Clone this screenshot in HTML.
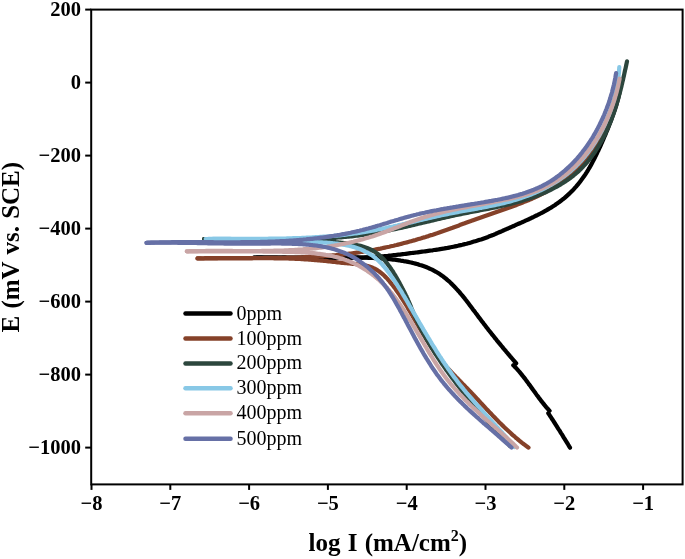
<!DOCTYPE html>
<html><head><meta charset="utf-8"><style>
html,body{margin:0;padding:0;background:#fff;width:685px;height:559px;overflow:hidden}
svg{display:block;will-change:transform}
.t{font-family:"Liberation Serif", serif;font-weight:bold;font-size:20.5px;fill:#000}
.tt{font-family:"Liberation Serif", serif;font-weight:bold;font-size:25px;fill:#000}
.l{font-family:"Liberation Serif", serif;font-size:20px;fill:#000}
</style></head><body><svg width="685" height="559" viewBox="0 0 685 559"><rect x="91.2" y="9.6" width="591.4" height="474.79999999999995" fill="none" stroke="#000" stroke-width="2"/><line x1="85.2" y1="9.6" x2="91.2" y2="9.6" stroke="#000" stroke-width="2"/><text x="81" y="15.6" text-anchor="end" class="t">200</text><line x1="85.2" y1="82.6" x2="91.2" y2="82.6" stroke="#000" stroke-width="2"/><text x="81" y="88.6" text-anchor="end" class="t">0</text><line x1="85.2" y1="155.6" x2="91.2" y2="155.6" stroke="#000" stroke-width="2"/><text x="81" y="161.6" text-anchor="end" class="t">−200</text><line x1="85.2" y1="228.6" x2="91.2" y2="228.6" stroke="#000" stroke-width="2"/><text x="81" y="234.6" text-anchor="end" class="t">−400</text><line x1="85.2" y1="301.6" x2="91.2" y2="301.6" stroke="#000" stroke-width="2"/><text x="81" y="307.6" text-anchor="end" class="t">−600</text><line x1="85.2" y1="374.6" x2="91.2" y2="374.6" stroke="#000" stroke-width="2"/><text x="81" y="380.6" text-anchor="end" class="t">−800</text><line x1="85.2" y1="447.6" x2="91.2" y2="447.6" stroke="#000" stroke-width="2"/><text x="81" y="453.6" text-anchor="end" class="t">−1000</text><line x1="91.5" y1="484.4" x2="91.5" y2="489.9" stroke="#000" stroke-width="2"/><text x="91.5" y="510" text-anchor="middle" class="t">−8</text><line x1="170.3" y1="484.4" x2="170.3" y2="489.9" stroke="#000" stroke-width="2"/><text x="170.3" y="510" text-anchor="middle" class="t">−7</text><line x1="249.1" y1="484.4" x2="249.1" y2="489.9" stroke="#000" stroke-width="2"/><text x="249.1" y="510" text-anchor="middle" class="t">−6</text><line x1="327.9" y1="484.4" x2="327.9" y2="489.9" stroke="#000" stroke-width="2"/><text x="327.9" y="510" text-anchor="middle" class="t">−5</text><line x1="406.7" y1="484.4" x2="406.7" y2="489.9" stroke="#000" stroke-width="2"/><text x="406.7" y="510" text-anchor="middle" class="t">−4</text><line x1="485.5" y1="484.4" x2="485.5" y2="489.9" stroke="#000" stroke-width="2"/><text x="485.5" y="510" text-anchor="middle" class="t">−3</text><line x1="564.3" y1="484.4" x2="564.3" y2="489.9" stroke="#000" stroke-width="2"/><text x="564.3" y="510" text-anchor="middle" class="t">−2</text><line x1="643.1" y1="484.4" x2="643.1" y2="489.9" stroke="#000" stroke-width="2"/><text x="643.1" y="510" text-anchor="middle" class="t">−1</text><text x="308.5" y="551" class="tt" word-spacing="1">log I (mA/cm<tspan dy="-10" font-size="16">2</tspan><tspan dy="10">)</tspan></text><text transform="translate(19,332.5) rotate(-90)" class="tt" word-spacing="1.0">E (mV vs. SCE)</text><path d="M254.0,257.5 L255.5,257.5 L257.0,257.4 L258.5,257.4 L260.0,257.4 L261.5,257.4 L263.0,257.4 L264.5,257.4 L266.0,257.4 L267.5,257.4 L269.1,257.3 L270.6,257.3 L272.1,257.3 L273.6,257.4 L275.1,257.4 L276.6,257.4 L278.1,257.4 L279.6,257.4 L281.1,257.4 L282.6,257.4 L284.1,257.4 L285.6,257.4 L287.1,257.5 L288.6,257.5 L290.1,257.5 L291.7,257.5 L293.2,257.5 L294.7,257.6 L296.2,257.6 L297.7,257.6 L299.2,257.6 L300.7,257.7 L302.2,257.7 L303.7,257.7 L305.2,257.7 L306.7,257.8 L308.2,257.8 L309.7,257.8 L311.2,257.8 L312.8,257.8 L314.3,257.9 L315.8,257.9 L317.3,257.9 L318.8,257.9 L320.3,257.9 L321.8,258.0 L323.3,258.0 L324.8,258.0 L326.3,258.0 L327.8,258.0 L329.3,258.0 L330.8,258.0 L332.3,258.0 L333.8,258.0 L335.3,258.0 L336.9,258.0 L338.4,258.0 L339.9,258.0 L341.4,258.0 L342.9,258.0 L344.4,258.0 L345.9,258.0 L347.4,258.0 L348.9,257.9 L350.4,257.9 L351.9,257.9 L353.4,257.8 L354.9,257.8 L356.4,257.8 L357.9,257.7 L359.4,257.7 L360.9,257.6 L362.4,257.6 L363.9,257.5 L365.4,257.4 L366.9,257.4 L368.4,257.3 L369.9,257.2 L371.4,257.1 L372.9,257.0 L374.4,256.9 L375.9,256.8 L377.4,256.7 L378.9,256.6 L380.4,256.5 L381.9,256.4 L383.4,256.3 L384.9,256.1 L386.4,256.0 L387.9,255.9 L389.4,255.7 L390.9,255.6 L392.4,255.4 L393.9,255.2 L395.3,255.1 L396.8,254.9 L398.3,254.7 L399.8,254.6 L401.3,254.4 L402.8,254.2 L404.3,254.0 L405.8,253.8 L407.3,253.6 L408.8,253.4 L410.3,253.2 L411.8,253.0 L413.3,252.8 L414.8,252.7 L416.3,252.5 L417.7,252.3 L419.2,252.1 L420.7,251.9 L422.2,251.7 L423.7,251.5 L425.2,251.3 L426.7,251.1 L428.2,250.9 L429.7,250.7 L431.2,250.5 L432.7,250.3 L434.2,250.0 L435.7,249.8 L437.2,249.6 L438.7,249.4 L440.2,249.1 L441.7,248.9 L443.1,248.7 L444.6,248.4 L446.1,248.1 L447.6,247.9 L449.1,247.6 L450.6,247.3 L452.0,247.0 L453.5,246.7 L455.0,246.4 L456.5,246.1 L457.9,245.8 L459.4,245.4 L460.9,245.1 L462.3,244.8 L463.8,244.4 L465.2,244.0 L466.7,243.7 L468.2,243.3 L469.6,242.9 L471.0,242.5 L472.5,242.0 L473.9,241.6 L475.4,241.2 L476.8,240.8 L478.2,240.3 L479.7,239.8 L481.1,239.4 L482.5,238.9 L483.9,238.4 L485.3,237.9 L486.7,237.4 L488.1,236.9 L489.5,236.3 L490.9,235.8 L492.3,235.2 L493.7,234.7 L495.1,234.1 L496.4,233.5 L497.8,232.9 L499.2,232.3 L500.6,231.7 L502.0,231.1 L503.3,230.5 L504.7,229.9 L506.1,229.3 L507.4,228.7 L508.8,228.1 L510.2,227.5 L511.6,226.9 L513.0,226.3 L514.4,225.7 L515.7,225.0 L517.1,224.4 L518.5,223.8 L519.9,223.2 L521.3,222.6 L522.7,222.0 L524.1,221.4 L525.5,220.7 L526.8,220.1 L528.2,219.5 L529.6,218.8 L531.0,218.2 L532.4,217.5 L533.7,216.9 L535.1,216.2 L536.5,215.5 L537.8,214.9 L539.2,214.2 L540.5,213.5 L541.8,212.8 L543.2,212.1 L544.5,211.3 L545.8,210.6 L547.1,209.9 L548.4,209.1 L549.7,208.3 L551.0,207.6 L552.3,206.8 L553.5,206.0 L554.8,205.2 L556.0,204.3 L557.2,203.5 L558.5,202.6 L559.7,201.7 L560.9,200.8 L562.0,199.9 L563.2,199.0 L564.4,198.1 L565.5,197.1 L566.6,196.1 L567.7,195.1 L568.8,194.1 L569.9,193.1 L571.0,192.0 L572.0,191.0 L573.1,189.9 L574.1,188.8 L575.1,187.7 L576.1,186.6 L577.1,185.4 L578.0,184.3 L579.0,183.1 L579.9,181.9 L580.8,180.7 L581.7,179.5 L582.6,178.3 L583.5,177.1 L584.4,175.8 L585.2,174.6 L586.0,173.3 L586.8,172.1 L587.6,170.8 L588.4,169.5 L589.2,168.2 L589.9,166.9 L590.7,165.6 L591.4,164.2 L592.1,162.9 L592.8,161.6 L593.5,160.2 L594.2,158.9 L594.9,157.6 L595.5,156.2 L596.2,154.9 L596.9,153.5 L597.5,152.1 L598.2,150.8 L598.8,149.4 L599.4,148.1 L600.1,146.7 L600.7,145.3 L601.3,143.9 L601.9,142.6 L602.5,141.2 L603.1,139.8 L603.7,138.4 L604.3,137.0 L604.9,135.6 L605.5,134.3 L606.0,132.9 L606.6,131.5 L607.2,130.1 L607.8,128.7 L608.3,127.3 L608.9,125.9 L609.4,124.5 L610.0,123.1 L610.5,121.7 L611.1,120.3 L611.6,118.9 L612.1,117.5 L612.6,116.1 L613.1,114.7 L613.6,113.2 L614.1,111.8 L614.6,110.4 L615.1,109.0 L615.5,107.5 L616.0,106.1 L616.4,104.7 L616.8,103.2 L617.2,101.8 L617.6,100.3 L618.0,98.9 L618.4,97.4 L618.7,95.9 L619.1,94.5 L619.4,93.0 L619.7,91.5 L620.0,90.0" fill="none" stroke="#000000" stroke-width="4.2" stroke-linecap="round" stroke-linejoin="round"/><path d="M254.0,257.5 L255.5,257.6 L257.1,257.6 L258.6,257.7 L260.1,257.7 L261.6,257.7 L263.1,257.8 L264.7,257.8 L266.2,257.8 L267.7,257.9 L269.2,257.9 L270.7,257.9 L272.2,257.9 L273.7,257.9 L275.3,257.9 L276.8,257.9 L278.3,258.0 L279.8,258.0 L281.3,258.0 L282.8,257.9 L284.3,257.9 L285.8,257.9 L287.3,257.9 L288.8,257.9 L290.3,257.9 L291.8,257.9 L293.3,257.9 L294.8,257.8 L296.3,257.8 L297.8,257.8 L299.3,257.8 L300.8,257.8 L302.3,257.7 L303.8,257.7 L305.3,257.7 L306.8,257.7 L308.3,257.6 L309.8,257.6 L311.3,257.6 L312.8,257.6 L314.3,257.5 L315.8,257.5 L317.3,257.5 L318.8,257.5 L320.3,257.4 L321.8,257.4 L323.3,257.4 L324.8,257.4 L326.3,257.4 L327.8,257.3 L329.3,257.3 L330.8,257.3 L332.3,257.3 L333.8,257.3 L335.3,257.3 L336.8,257.3 L338.4,257.3 L339.9,257.3 L341.4,257.3 L342.9,257.3 L344.4,257.3 L345.9,257.3 L347.4,257.3 L348.9,257.3 L350.4,257.3 L351.9,257.3 L353.4,257.4 L354.9,257.4 L356.4,257.4 L358.0,257.4 L359.5,257.5 L361.0,257.5 L362.5,257.6 L364.0,257.6 L365.5,257.7 L367.1,257.7 L368.6,257.8 L370.1,257.9 L371.6,257.9 L373.2,258.0 L374.7,258.1 L376.2,258.2 L377.7,258.3 L379.3,258.4 L380.8,258.5 L382.3,258.6 L383.9,258.7 L385.4,258.8 L386.9,259.0 L388.5,259.1 L390.0,259.2 L391.5,259.4 L393.1,259.6 L394.6,259.7 L396.1,259.9 L397.6,260.1 L399.2,260.3 L400.7,260.6 L402.2,260.8 L403.7,261.1 L405.2,261.3 L406.7,261.6 L408.2,261.9 L409.6,262.2 L411.1,262.5 L412.6,262.9 L414.0,263.2 L415.5,263.6 L416.9,264.0 L418.4,264.4 L419.8,264.9 L421.2,265.3 L422.6,265.8 L424.0,266.3 L425.4,266.8 L426.7,267.3 L428.1,267.9 L429.4,268.5 L430.8,269.1 L432.1,269.7 L433.4,270.4 L434.7,271.1 L436.0,271.8 L437.2,272.5 L438.5,273.3 L439.7,274.1 L440.9,274.9 L442.1,275.8 L443.3,276.6 L444.4,277.5 L445.6,278.4 L446.7,279.4 L447.8,280.4 L449.0,281.3 L450.1,282.3 L451.1,283.4 L452.2,284.4 L453.3,285.5 L454.3,286.6 L455.4,287.7 L456.4,288.8 L457.4,289.9 L458.4,291.0 L459.5,292.2 L460.4,293.3 L461.4,294.5 L462.4,295.7 L463.4,296.9 L464.4,298.1 L465.3,299.3 L466.3,300.5 L467.2,301.7 L468.2,303.0 L469.1,304.2 L470.0,305.4 L471.0,306.7 L471.9,307.9 L472.8,309.2 L473.7,310.4 L474.7,311.6 L475.6,312.9 L476.5,314.1 L477.4,315.3 L478.3,316.6 L479.3,317.8 L480.2,319.0 L481.1,320.2 L482.0,321.4 L482.9,322.6 L483.8,323.8 L484.8,325.0 L485.7,326.2 L486.6,327.4 L487.5,328.6 L488.4,329.8 L489.4,331.0 L490.3,332.1 L491.2,333.3 L492.1,334.5 L493.1,335.6 L494.0,336.8 L494.9,338.0 L495.9,339.1 L496.8,340.3 L497.7,341.4 L498.7,342.6 L499.6,343.7 L500.6,344.9 L501.5,346.0 L502.5,347.2 L503.4,348.3 L504.4,349.5 L505.4,350.6 L506.3,351.8 L507.3,352.9 L508.3,354.1 L509.2,355.2 L510.2,356.4 L511.2,357.5 L512.2,358.7 L513.2,359.8 L514.2,361.0 L515.2,362.1 L516.2,363.3 M513.3,365.2 L514.4,366.3 L515.5,367.5 L516.6,368.6 L517.7,369.8 L518.7,371.0 L519.7,372.2 L520.7,373.4 L521.7,374.6 L522.7,375.9 L523.7,377.1 L524.7,378.4 L525.6,379.6 L526.5,380.9 L527.5,382.1 L528.4,383.4 L529.3,384.7 L530.3,385.9 L531.2,387.2 L532.1,388.5 L533.0,389.8 L533.9,391.0 L534.9,392.3 L535.8,393.6 L536.7,394.9 L537.6,396.1 L538.6,397.4 L539.5,398.7 L540.5,399.9 L541.4,401.2 L542.4,402.4 L543.4,403.6 L544.4,404.9 L545.4,406.1 L546.4,407.3 L547.5,408.5 L548.5,409.6 L549.6,410.8 M548.3,413.2 L549.2,414.5 L550.0,415.8 L550.9,417.2 L551.7,418.5 L552.6,419.8 L553.5,421.1 L554.3,422.5 L555.2,423.8 L556.0,425.1 L556.8,426.4 L557.7,427.8 L558.5,429.1 L559.4,430.4 L560.2,431.7 L561.0,433.1 L561.9,434.4 L562.7,435.7 L563.5,437.1 L564.3,438.4 L565.1,439.7 L566.0,441.1 L566.8,442.4 L567.6,443.7 L568.4,445.0 L569.2,446.4 L570.0,447.7" fill="none" stroke="#000000" stroke-width="4.2" stroke-linecap="round" stroke-linejoin="round"/><path d="M197.5,258.4 L199.0,258.4 L200.5,258.3 L202.0,258.3 L203.5,258.3 L205.0,258.2 L206.5,258.2 L208.0,258.2 L209.5,258.1 L211.0,258.1 L212.5,258.1 L214.0,258.1 L215.5,258.1 L217.0,258.1 L218.5,258.0 L220.0,258.0 L221.5,258.0 L223.0,258.0 L224.5,258.0 L226.0,258.0 L227.5,258.0 L229.0,258.0 L230.5,258.0 L232.0,258.0 L233.5,258.0 L235.0,258.0 L236.5,258.0 L238.0,258.0 L239.5,258.0 L241.0,258.0 L242.5,258.0 L244.1,258.0 L245.6,258.0 L247.1,258.0 L248.6,258.0 L250.1,258.0 L251.6,258.0 L253.1,258.0 L254.6,258.0 L256.1,258.0 L257.6,258.0 L259.1,258.0 L260.7,258.0 L262.2,258.0 L263.7,258.0 L265.2,257.9 L266.7,257.9 L268.2,257.9 L269.7,257.9 L271.2,257.9 L272.7,257.9 L274.2,257.9 L275.8,257.9 L277.3,257.9 L278.8,257.8 L280.3,257.8 L281.8,257.8 L283.3,257.8 L284.8,257.8 L286.3,257.7 L287.8,257.7 L289.3,257.7 L290.9,257.6 L292.4,257.6 L293.9,257.6 L295.4,257.5 L296.9,257.5 L298.4,257.4 L299.9,257.4 L301.4,257.3 L302.9,257.3 L304.4,257.2 L305.9,257.2 L307.4,257.1 L308.9,257.0 L310.5,257.0 L312.0,256.9 L313.5,256.8 L315.0,256.7 L316.5,256.6 L318.0,256.6 L319.5,256.5 L321.0,256.4 L322.5,256.3 L324.0,256.2 L325.5,256.1 L327.0,255.9 L328.5,255.8 L330.0,255.7 L331.5,255.6 L333.0,255.4 L334.5,255.3 L336.0,255.2 L337.5,255.0 L339.0,254.9 L340.5,254.7 L342.0,254.6 L343.5,254.4 L344.9,254.2 L346.4,254.1 L347.9,253.9 L349.4,253.7 L350.9,253.5 L352.4,253.3 L353.9,253.1 L355.4,252.9 L356.9,252.7 L358.3,252.5 L359.8,252.2 L361.3,252.0 L362.8,251.8 L364.3,251.5 L365.8,251.3 L367.2,251.0 L368.7,250.8 L370.2,250.5 L371.7,250.3 L373.2,250.0 L374.6,249.7 L376.1,249.4 L377.6,249.1 L379.1,248.8 L380.5,248.6 L382.0,248.2 L383.5,247.9 L384.9,247.6 L386.4,247.3 L387.9,247.0 L389.3,246.7 L390.8,246.3 L392.3,246.0 L393.7,245.7 L395.2,245.3 L396.6,245.0 L398.1,244.6 L399.6,244.2 L401.0,243.9 L402.5,243.5 L403.9,243.1 L405.4,242.7 L406.8,242.4 L408.3,242.0 L409.7,241.6 L411.2,241.2 L412.6,240.8 L414.1,240.4 L415.5,240.0 L417.0,239.5 L418.4,239.1 L419.9,238.7 L421.3,238.3 L422.7,237.8 L424.2,237.4 L425.6,237.0 L427.0,236.5 L428.5,236.1 L429.9,235.6 L431.3,235.1 L432.8,234.7 L434.2,234.2 L435.6,233.7 L437.0,233.3 L438.5,232.8 L439.9,232.3 L441.3,231.8 L442.7,231.3 L444.1,230.8 L445.6,230.3 L447.0,229.8 L448.4,229.3 L449.8,228.8 L451.2,228.3 L452.6,227.8 L454.0,227.2 L455.4,226.7 L456.9,226.2 L458.3,225.7 L459.7,225.1 L461.1,224.6 L462.5,224.1 L463.9,223.6 L465.3,223.0 L466.7,222.5 L468.1,222.0 L469.5,221.5 L471.0,221.0 L472.4,220.4 L473.8,219.9 L475.2,219.4 L476.6,218.9 L478.0,218.4 L479.5,217.9 L480.9,217.4 L482.3,216.9 L483.7,216.4 L485.1,215.9 L486.6,215.4 L488.0,214.9 L489.4,214.4 L490.9,213.9 L492.3,213.4 L493.7,212.9 L495.2,212.4 L496.6,211.9 L498.0,211.4 L499.5,210.9 L500.9,210.4 L502.3,209.9 L503.8,209.4 L505.2,208.9 L506.6,208.4 L508.0,207.9 L509.5,207.4 L510.9,206.9 L512.3,206.4 L513.7,205.9 L515.2,205.4 L516.6,204.9 L518.0,204.3 L519.4,203.8 L520.8,203.2 L522.2,202.7 L523.6,202.1 L525.0,201.6 L526.4,201.0 L527.8,200.4 L529.2,199.9 L530.6,199.3 L532.0,198.7 L533.3,198.1 L534.7,197.5 L536.0,196.8 L537.4,196.2 L538.8,195.5 L540.1,194.9 L541.4,194.2 L542.8,193.5 L544.1,192.9 L545.4,192.2 L546.7,191.4 L548.0,190.7 L549.3,190.0 L550.6,189.2 L551.8,188.5 L553.1,187.7 L554.4,186.9 L555.6,186.1 L556.9,185.2 L558.1,184.4 L559.3,183.5 L560.5,182.7 L561.7,181.8 L562.9,180.9 L564.1,180.0 L565.3,179.1 L566.5,178.1 L567.6,177.2 L568.8,176.2 L569.9,175.2 L571.0,174.3 L572.1,173.3 L573.2,172.2 L574.3,171.2 L575.4,170.2 L576.5,169.1 L577.6,168.1 L578.6,167.0 L579.7,165.9 L580.7,164.8 L581.7,163.7 L582.7,162.6 L583.7,161.5 L584.7,160.3 L585.7,159.2 L586.7,158.0 L587.6,156.8 L588.6,155.7 L589.5,154.5 L590.4,153.3 L591.3,152.1 L592.2,150.8 L593.1,149.6 L594.0,148.4 L594.8,147.1 L595.7,145.9 L596.5,144.6 L597.4,143.3 L598.2,142.1 L599.0,140.8 L599.8,139.5 L600.5,138.2 L601.3,136.9 L602.0,135.6 L602.8,134.2 L603.5,132.9 L604.2,131.6 L604.9,130.2 L605.6,128.9 L606.3,127.5 L606.9,126.2 L607.6,124.8 L608.2,123.4 L608.8,122.0 L609.4,120.6 L610.0,119.2 L610.6,117.9 L611.2,116.5 L611.7,115.0 L612.2,113.6 L612.8,112.2 L613.3,110.8 L613.8,109.4 L614.2,107.9 L614.7,106.5 L615.1,105.1 L615.6,103.6 L616.0,102.2 L616.4,100.7 L616.8,99.3 L617.2,97.8 L617.5,96.4 L617.9,94.9 L618.2,93.5 L618.5,92.0" fill="none" stroke="#854129" stroke-width="4.2" stroke-linecap="round" stroke-linejoin="round"/><path d="M197.5,258.4 L199.0,258.4 L200.5,258.4 L202.0,258.5 L203.5,258.5 L205.0,258.5 L206.5,258.5 L208.0,258.5 L209.5,258.5 L211.0,258.5 L212.5,258.5 L214.1,258.5 L215.6,258.5 L217.1,258.5 L218.6,258.5 L220.1,258.5 L221.6,258.5 L223.1,258.5 L224.6,258.5 L226.1,258.5 L227.6,258.5 L229.2,258.5 L230.7,258.5 L232.2,258.4 L233.7,258.4 L235.2,258.4 L236.7,258.4 L238.2,258.4 L239.7,258.4 L241.3,258.4 L242.8,258.3 L244.3,258.3 L245.8,258.3 L247.3,258.3 L248.8,258.3 L250.3,258.3 L251.9,258.3 L253.4,258.2 L254.9,258.2 L256.4,258.2 L257.9,258.2 L259.4,258.2 L260.9,258.2 L262.4,258.2 L264.0,258.2 L265.5,258.2 L267.0,258.2 L268.5,258.2 L270.0,258.2 L271.5,258.2 L273.0,258.2 L274.5,258.3 L276.0,258.3 L277.6,258.3 L279.1,258.3 L280.6,258.4 L282.1,258.4 L283.6,258.4 L285.1,258.5 L286.6,258.5 L288.1,258.5 L289.6,258.6 L291.1,258.6 L292.6,258.7 L294.1,258.7 L295.6,258.8 L297.1,258.9 L298.6,258.9 L300.1,259.0 L301.6,259.1 L303.1,259.2 L304.6,259.3 L306.1,259.4 L307.6,259.5 L309.1,259.6 L310.6,259.7 L312.1,259.8 L313.6,259.9 L315.0,260.1 L316.5,260.2 L318.0,260.3 L319.5,260.5 L321.0,260.6 L322.5,260.7 L324.0,260.9 L325.5,261.0 L327.0,261.2 L328.5,261.4 L330.0,261.5 L331.5,261.7 L333.0,261.8 L334.5,262.0 L336.0,262.1 L337.5,262.3 L339.0,262.5 L340.5,262.6 L342.0,262.8 L343.5,262.9 L345.1,263.1 L346.6,263.2 L348.1,263.4 L349.7,263.5 L351.2,263.7 L352.8,263.8 L354.3,264.0 L355.9,264.1 L357.4,264.3 L359.0,264.5 L360.5,264.7 L362.0,264.9 L363.5,265.1 L365.0,265.4 L366.5,265.7 L367.9,266.1 L369.3,266.5 L370.7,267.0 L372.1,267.5 L373.4,268.1 L374.7,268.7 L376.0,269.4 L377.2,270.1 L378.4,270.9 L379.6,271.8 L380.8,272.7 L381.9,273.6 L383.0,274.5 L384.1,275.5 L385.1,276.6 L386.2,277.6 L387.2,278.7 L388.2,279.8 L389.2,281.0 L390.1,282.1 L391.1,283.3 L392.0,284.5 L393.0,285.7 L393.9,286.9 L394.8,288.1 L395.7,289.3 L396.5,290.5 L397.4,291.8 L398.3,293.0 L399.1,294.2 L400.0,295.5 L400.8,296.8 L401.6,298.0 L402.5,299.3 L403.3,300.6 L404.1,301.8 L404.9,303.1 L405.7,304.4 L406.5,305.7 L407.3,307.0 L408.0,308.3 L408.8,309.6 L409.6,310.9 L410.4,312.2 L411.1,313.5 L411.9,314.8 L412.7,316.2 L413.4,317.5 L414.2,318.8 L414.9,320.1 L415.7,321.4 L416.5,322.7 L417.2,324.0 L418.0,325.3 L418.7,326.6 L419.5,328.0 L420.3,329.3 L421.0,330.6 L421.8,331.9 L422.6,333.2 L423.3,334.5 L424.1,335.7 L424.9,337.0 L425.7,338.3 L426.5,339.6 L427.3,340.9 L428.1,342.1 L428.9,343.4 L429.7,344.7 L430.5,345.9 L431.4,347.2 L432.2,348.4 L433.0,349.7 L433.9,350.9 L434.8,352.1 L435.6,353.3 L436.5,354.5 L437.4,355.7 L438.3,356.9 L439.2,358.1 L440.2,359.3 L441.1,360.5 L442.0,361.6 L443.0,362.8 L444.0,363.9 L445.0,365.0 L445.9,366.2 L446.9,367.3 L447.9,368.4 L449.0,369.5 L450.0,370.6 L451.0,371.7 L452.0,372.8 L453.1,373.9 L454.1,375.0 L455.2,376.1 L456.2,377.2 L457.3,378.3 L458.3,379.3 L459.4,380.4 L460.4,381.5 L461.5,382.6 L462.5,383.7 L463.6,384.7 L464.7,385.8 L465.7,386.9 L466.8,388.0 L467.8,389.1 L468.9,390.2 L469.9,391.2 L471.0,392.3 L472.0,393.4 L473.0,394.5 L474.1,395.6 L475.1,396.7 L476.1,397.8 L477.2,398.9 L478.2,400.0 L479.2,401.1 L480.2,402.3 L481.3,403.4 L482.3,404.5 L483.3,405.6 L484.4,406.7 L485.4,407.8 L486.4,408.9 L487.5,410.0 L488.5,411.1 L489.5,412.2 L490.6,413.3 L491.6,414.3 L492.6,415.4 L493.7,416.5 L494.7,417.6 L495.8,418.7 L496.8,419.8 L497.9,420.8 L498.9,421.9 L500.0,423.0 L501.1,424.0 L502.1,425.1 L503.2,426.1 L504.3,427.2 L505.4,428.2 L506.5,429.3 L507.6,430.3 L508.7,431.3 L509.8,432.3 L510.9,433.3 L512.0,434.4 L513.1,435.4 L514.3,436.3 L515.4,437.3 L516.6,438.3 L517.7,439.3 L518.9,440.2 L520.0,441.2 L521.2,442.1 L522.4,443.1 L523.6,444.0 L524.8,444.9 L526.0,445.8 L527.3,446.7 L528.5,447.6" fill="none" stroke="#854129" stroke-width="4.2" stroke-linecap="round" stroke-linejoin="round"/><path d="M204.0,239.2 L205.5,239.2 L207.0,239.2 L208.5,239.2 L210.0,239.2 L211.5,239.2 L213.0,239.2 L214.5,239.2 L216.0,239.2 L217.5,239.2 L219.0,239.2 L220.5,239.2 L222.0,239.2 L223.5,239.2 L225.0,239.2 L226.5,239.2 L228.0,239.2 L229.6,239.2 L231.1,239.2 L232.6,239.3 L234.1,239.3 L235.6,239.3 L237.1,239.3 L238.6,239.3 L240.1,239.3 L241.6,239.3 L243.1,239.4 L244.6,239.4 L246.2,239.4 L247.7,239.4 L249.2,239.4 L250.7,239.4 L252.2,239.5 L253.7,239.5 L255.2,239.5 L256.7,239.5 L258.2,239.5 L259.8,239.5 L261.3,239.5 L262.8,239.6 L264.3,239.6 L265.8,239.6 L267.3,239.6 L268.8,239.6 L270.4,239.6 L271.9,239.6 L273.4,239.6 L274.9,239.6 L276.4,239.6 L277.9,239.6 L279.4,239.6 L280.9,239.6 L282.5,239.6 L284.0,239.6 L285.5,239.6 L287.0,239.6 L288.5,239.6 L290.0,239.5 L291.5,239.5 L293.0,239.5 L294.6,239.5 L296.1,239.5 L297.6,239.4 L299.1,239.4 L300.6,239.4 L302.1,239.3 L303.6,239.3 L305.1,239.3 L306.6,239.2 L308.1,239.2 L309.7,239.1 L311.2,239.1 L312.7,239.0 L314.2,239.0 L315.7,238.9 L317.2,238.8 L318.7,238.8 L320.2,238.7 L321.7,238.6 L323.2,238.6 L324.7,238.5 L326.2,238.4 L327.7,238.3 L329.2,238.2 L330.7,238.1 L332.2,238.0 L333.7,237.9 L335.2,237.8 L336.7,237.7 L338.2,237.5 L339.7,237.4 L341.2,237.3 L342.7,237.2 L344.2,237.0 L345.7,236.9 L347.2,236.7 L348.7,236.6 L350.2,236.4 L351.7,236.3 L353.2,236.1 L354.7,235.9 L356.2,235.7 L357.7,235.6 L359.2,235.4 L360.7,235.2 L362.1,235.0 L363.6,234.8 L365.1,234.5 L366.6,234.3 L368.1,234.1 L369.6,233.9 L371.1,233.6 L372.5,233.4 L374.0,233.2 L375.5,232.9 L377.0,232.6 L378.5,232.4 L379.9,232.1 L381.4,231.8 L382.9,231.6 L384.4,231.3 L385.8,231.0 L387.3,230.7 L388.8,230.4 L390.3,230.1 L391.7,229.8 L393.2,229.5 L394.7,229.2 L396.2,228.9 L397.6,228.5 L399.1,228.2 L400.6,227.9 L402.0,227.6 L403.5,227.2 L405.0,226.9 L406.4,226.6 L407.9,226.2 L409.4,225.9 L410.9,225.6 L412.3,225.2 L413.8,224.9 L415.3,224.5 L416.7,224.2 L418.2,223.8 L419.7,223.5 L421.1,223.2 L422.6,222.8 L424.1,222.5 L425.5,222.1 L427.0,221.8 L428.5,221.4 L430.0,221.1 L431.4,220.7 L432.9,220.4 L434.4,220.0 L435.8,219.7 L437.3,219.3 L438.8,219.0 L440.3,218.6 L441.7,218.3 L443.2,218.0 L444.7,217.6 L446.1,217.3 L447.6,217.0 L449.1,216.6 L450.6,216.3 L452.0,216.0 L453.5,215.7 L455.0,215.3 L456.5,215.0 L458.0,214.7 L459.4,214.4 L460.9,214.1 L462.4,213.8 L463.9,213.5 L465.4,213.2 L466.9,212.9 L468.3,212.6 L469.8,212.3 L471.3,212.0 L472.8,211.7 L474.3,211.5 L475.8,211.2 L477.3,210.9 L478.7,210.6 L480.2,210.3 L481.7,210.0 L483.2,209.7 L484.7,209.5 L486.2,209.2 L487.7,208.9 L489.1,208.6 L490.6,208.3 L492.1,208.0 L493.6,207.7 L495.1,207.4 L496.5,207.1 L498.0,206.8 L499.5,206.4 L501.0,206.1 L502.4,205.8 L503.9,205.5 L505.4,205.1 L506.9,204.8 L508.3,204.4 L509.8,204.1 L511.3,203.7 L512.7,203.3 L514.2,203.0 L515.6,202.6 L517.1,202.2 L518.6,201.8 L520.0,201.4 L521.5,201.0 L522.9,200.5 L524.3,200.1 L525.8,199.6 L527.2,199.2 L528.7,198.7 L530.1,198.2 L531.5,197.7 L533.0,197.2 L534.4,196.7 L535.8,196.2 L537.2,195.7 L538.6,195.1 L540.0,194.6 L541.4,194.0 L542.8,193.4 L544.2,192.8 L545.6,192.2 L547.0,191.6 L548.4,190.9 L549.7,190.3 L551.1,189.6 L552.4,188.9 L553.8,188.2 L555.1,187.5 L556.4,186.8 L557.7,186.1 L559.0,185.3 L560.3,184.6 L561.6,183.8 L562.9,183.0 L564.1,182.2 L565.4,181.4 L566.6,180.6 L567.8,179.7 L569.1,178.9 L570.3,178.0 L571.4,177.1 L572.6,176.2 L573.8,175.3 L574.9,174.3 L576.0,173.4 L577.2,172.4 L578.3,171.4 L579.3,170.4 L580.4,169.4 L581.5,168.3 L582.5,167.3 L583.5,166.2 L584.5,165.1 L585.5,164.0 L586.5,162.9 L587.5,161.8 L588.4,160.6 L589.4,159.5 L590.3,158.3 L591.2,157.1 L592.1,155.9 L592.9,154.7 L593.8,153.5 L594.7,152.3 L595.5,151.0 L596.3,149.7 L597.1,148.5 L597.9,147.2 L598.7,145.9 L599.5,144.6 L600.2,143.3 L601.0,142.0 L601.7,140.7 L602.4,139.3 L603.1,138.0 L603.8,136.6 L604.5,135.2 L605.2,133.9 L605.8,132.5 L606.5,131.1 L607.1,129.7 L607.7,128.3 L608.3,126.9 L608.9,125.5 L609.5,124.1 L610.1,122.7 L610.7,121.2 L611.2,119.8 L611.8,118.4 L612.3,116.9 L612.8,115.5 L613.4,114.0 L613.9,112.6 L614.4,111.1 L614.9,109.6 L615.3,108.2 L615.8,106.7 L616.3,105.3 L616.7,103.8 L617.1,102.3 L617.6,100.8 L618.0,99.4 L618.4,97.9 L618.8,96.4 L619.2,95.0 L619.6,93.5 L620.0,92.0 L620.4,90.5 L620.7,89.1 L621.1,87.6 L621.5,86.1 L621.8,84.6 L622.2,83.2 L622.5,81.7 L622.9,80.2 L623.2,78.8 L623.5,77.3 L623.9,75.9 L624.2,74.4 L624.5,72.9 L624.8,71.5 L625.1,70.0 L625.5,68.6 L625.8,67.1 L626.1,65.7 L626.4,64.3 L626.7,62.8 L627.0,61.4" fill="none" stroke="#2C463D" stroke-width="4.2" stroke-linecap="round" stroke-linejoin="round"/><path d="M204.0,239.2 L205.5,239.2 L207.0,239.2 L208.5,239.2 L210.0,239.2 L211.6,239.2 L213.1,239.2 L214.6,239.2 L216.1,239.2 L217.6,239.3 L219.1,239.3 L220.6,239.3 L222.1,239.3 L223.6,239.3 L225.1,239.3 L226.6,239.3 L228.1,239.3 L229.6,239.3 L231.2,239.3 L232.7,239.4 L234.2,239.4 L235.7,239.4 L237.2,239.4 L238.7,239.4 L240.2,239.4 L241.7,239.5 L243.2,239.5 L244.7,239.5 L246.2,239.5 L247.7,239.5 L249.2,239.5 L250.7,239.6 L252.2,239.6 L253.7,239.6 L255.2,239.6 L256.7,239.7 L258.2,239.7 L259.7,239.7 L261.2,239.7 L262.7,239.8 L264.2,239.8 L265.7,239.8 L267.2,239.8 L268.7,239.9 L270.2,239.9 L271.7,239.9 L273.3,240.0 L274.8,240.0 L276.3,240.0 L277.8,240.1 L279.3,240.1 L280.8,240.1 L282.3,240.2 L283.8,240.2 L285.3,240.2 L286.8,240.3 L288.3,240.3 L289.8,240.4 L291.3,240.4 L292.8,240.5 L294.3,240.5 L295.8,240.5 L297.3,240.6 L298.8,240.6 L300.3,240.7 L301.8,240.7 L303.3,240.8 L304.9,240.8 L306.4,240.9 L307.9,240.9 L309.4,241.0 L310.9,241.0 L312.4,241.1 L313.9,241.1 L315.4,241.2 L316.9,241.3 L318.4,241.3 L319.9,241.4 L321.5,241.4 L323.0,241.5 L324.5,241.6 L326.0,241.6 L327.5,241.7 L329.0,241.8 L330.5,241.9 L332.0,241.9 L333.5,242.0 L335.1,242.1 L336.6,242.3 L338.1,242.4 L339.6,242.5 L341.1,242.7 L342.6,242.8 L344.1,243.0 L345.6,243.2 L347.1,243.4 L348.6,243.6 L350.1,243.8 L351.6,244.0 L353.1,244.3 L354.6,244.6 L356.1,244.9 L357.5,245.2 L359.0,245.5 L360.5,245.9 L362.0,246.3 L363.4,246.7 L364.8,247.2 L366.3,247.7 L367.7,248.2 L369.0,248.8 L370.4,249.4 L371.7,250.0 L373.0,250.7 L374.2,251.5 L375.5,252.3 L376.6,253.1 L377.8,254.0 L379.0,254.9 L380.1,255.9 L381.2,256.9 L382.2,257.9 L383.3,258.9 L384.3,260.0 L385.3,261.2 L386.2,262.3 L387.2,263.5 L388.1,264.7 L389.0,265.9 L389.9,267.1 L390.8,268.4 L391.6,269.7 L392.5,270.9 L393.3,272.2 L394.1,273.6 L394.9,274.9 L395.7,276.2 L396.5,277.6 L397.2,278.9 L398.0,280.2 L398.7,281.6 L399.5,282.9 L400.2,284.3 L400.9,285.6 L401.6,286.9 L402.3,288.3 L403.0,289.6 L403.7,290.9 L404.4,292.2 L405.1,293.6 L405.7,294.9 L406.4,296.2 L407.0,297.6 L407.6,298.9 L408.2,300.3 L408.8,301.6 L409.4,303.0 L409.9,304.4 L410.5,305.7 L411.1,307.1 L411.6,308.5 L412.2,309.9 L412.7,311.2 L413.3,312.6 L413.9,314.0 L414.5,315.3 L415.1,316.7 L415.7,318.1 L416.3,319.4 L417.0,320.8 L417.6,322.1 L418.3,323.5 L418.9,324.8 L419.6,326.2 L420.3,327.5 L420.9,328.8 L421.6,330.2 L422.3,331.5 L423.0,332.8 L423.7,334.1 L424.5,335.4 L425.2,336.8 L425.9,338.1 L426.7,339.4 L427.4,340.7 L428.2,342.0 L428.9,343.3 L429.7,344.6 L430.5,345.9 L431.2,347.2 L432.0,348.5 L432.8,349.7 L433.6,351.0 L434.4,352.3 L435.2,353.6 L436.0,354.8 L436.9,356.1 L437.7,357.4 L438.5,358.6 L439.4,359.9 L440.2,361.2 L441.0,362.4 L441.9,363.7 L442.8,364.9 L443.6,366.1 L444.5,367.4 L445.4,368.6 L446.2,369.9 L447.1,371.1 L448.0,372.3 L448.9,373.5 L449.8,374.8 L450.7,376.0 L451.6,377.2 L452.5,378.4 L453.4,379.6 L454.3,380.8 L455.2,382.0 L456.1,383.2 L457.0,384.4 L458.0,385.6 L458.9,386.8 L459.8,388.0 L460.7,389.1 L461.7,390.3 L462.6,391.5 L463.6,392.7 L464.5,393.8 L465.5,395.0 L466.4,396.2 L467.4,397.3 L468.3,398.5 L469.3,399.7 L470.2,400.8 L471.2,402.0 L472.1,403.1 L473.1,404.3 L474.1,405.4 L475.1,406.6 L476.0,407.7 L477.0,408.9 L478.0,410.0 L479.0,411.1 L479.9,412.3 L480.9,413.4 L481.9,414.5 L482.9,415.7 L483.9,416.8 L484.9,417.9 L485.9,419.1 L486.9,420.2 L487.8,421.3 L488.8,422.5 L489.8,423.6 L490.8,424.7 L491.8,425.8 L492.8,426.9 L493.8,428.1 L494.8,429.2 L495.9,430.3 L496.9,431.4 L497.9,432.6 L498.9,433.7 L499.9,434.8 L500.9,435.9 L501.9,437.0 L502.9,438.2 L503.9,439.3 L504.9,440.4 L505.9,441.5 L507.0,442.6 L508.0,443.8 L509.0,444.9 L510.0,446.0" fill="none" stroke="#2C463D" stroke-width="4.2" stroke-linecap="round" stroke-linejoin="round"/><path d="M205.8,239.0 L207.3,239.0 L208.8,239.0 L210.3,239.0 L211.8,239.0 L213.3,238.9 L214.8,238.9 L216.3,238.9 L217.8,238.9 L219.3,238.9 L220.8,238.9 L222.3,238.9 L223.8,238.9 L225.3,238.9 L226.8,238.9 L228.3,238.9 L229.8,238.9 L231.3,238.9 L232.8,238.9 L234.4,238.9 L235.9,238.9 L237.4,238.9 L238.9,238.9 L240.4,238.9 L241.9,238.9 L243.4,238.9 L244.9,238.9 L246.4,238.9 L247.9,238.9 L249.4,238.9 L250.9,238.9 L252.5,238.9 L254.0,238.9 L255.5,238.8 L257.0,238.8 L258.5,238.8 L260.0,238.8 L261.5,238.8 L263.0,238.8 L264.5,238.8 L266.0,238.8 L267.6,238.8 L269.1,238.7 L270.6,238.7 L272.1,238.7 L273.6,238.7 L275.1,238.7 L276.6,238.6 L278.1,238.6 L279.6,238.6 L281.1,238.6 L282.6,238.5 L284.2,238.5 L285.7,238.5 L287.2,238.4 L288.7,238.4 L290.2,238.3 L291.7,238.3 L293.2,238.2 L294.7,238.2 L296.2,238.1 L297.7,238.1 L299.2,238.0 L300.7,238.0 L302.3,237.9 L303.8,237.8 L305.3,237.8 L306.8,237.7 L308.3,237.6 L309.8,237.6 L311.3,237.5 L312.8,237.4 L314.3,237.3 L315.8,237.2 L317.3,237.1 L318.8,237.0 L320.3,236.9 L321.8,236.8 L323.3,236.7 L324.8,236.6 L326.3,236.5 L327.8,236.4 L329.3,236.2 L330.8,236.1 L332.3,236.0 L333.8,235.8 L335.3,235.7 L336.8,235.6 L338.3,235.4 L339.8,235.3 L341.3,235.1 L342.8,234.9 L344.3,234.8 L345.7,234.6 L347.2,234.4 L348.7,234.2 L350.2,234.1 L351.7,233.9 L353.2,233.7 L354.7,233.5 L356.2,233.3 L357.7,233.1 L359.1,232.8 L360.6,232.6 L362.1,232.4 L363.6,232.2 L365.1,231.9 L366.6,231.7 L368.0,231.4 L369.5,231.2 L371.0,230.9 L372.5,230.7 L373.9,230.4 L375.4,230.1 L376.9,229.8 L378.4,229.5 L379.8,229.3 L381.3,229.0 L382.8,228.7 L384.3,228.4 L385.7,228.1 L387.2,227.7 L388.7,227.4 L390.1,227.1 L391.6,226.8 L393.1,226.5 L394.5,226.1 L396.0,225.8 L397.5,225.5 L398.9,225.1 L400.4,224.8 L401.9,224.5 L403.3,224.1 L404.8,223.8 L406.3,223.4 L407.7,223.1 L409.2,222.8 L410.7,222.4 L412.1,222.1 L413.6,221.7 L415.1,221.4 L416.5,221.0 L418.0,220.7 L419.5,220.3 L420.9,220.0 L422.4,219.6 L423.9,219.3 L425.3,219.0 L426.8,218.6 L428.3,218.3 L429.7,217.9 L431.2,217.6 L432.7,217.3 L434.1,216.9 L435.6,216.6 L437.1,216.3 L438.6,215.9 L440.0,215.6 L441.5,215.3 L443.0,215.0 L444.5,214.7 L445.9,214.4 L447.4,214.1 L448.9,213.8 L450.4,213.5 L451.9,213.2 L453.3,212.9 L454.8,212.6 L456.3,212.3 L457.8,212.1 L459.3,211.8 L460.8,211.5 L462.3,211.2 L463.7,211.0 L465.2,210.7 L466.7,210.4 L468.2,210.2 L469.7,209.9 L471.2,209.6 L472.7,209.4 L474.1,209.1 L475.6,208.8 L477.1,208.6 L478.6,208.3 L480.1,208.0 L481.6,207.8 L483.1,207.5 L484.5,207.2 L486.0,206.9 L487.5,206.6 L489.0,206.3 L490.5,206.0 L491.9,205.7 L493.4,205.4 L494.9,205.1 L496.4,204.8 L497.8,204.5 L499.3,204.1 L500.8,203.8 L502.2,203.4 L503.7,203.1 L505.2,202.7 L506.6,202.3 L508.1,201.9 L509.5,201.6 L511.0,201.2 L512.4,200.7 L513.9,200.3 L515.3,199.9 L516.8,199.5 L518.2,199.0 L519.6,198.5 L521.1,198.1 L522.5,197.6 L523.9,197.1 L525.3,196.6 L526.8,196.1 L528.2,195.5 L529.6,195.0 L531.0,194.5 L532.4,193.9 L533.7,193.3 L535.1,192.7 L536.5,192.1 L537.9,191.5 L539.2,190.9 L540.6,190.3 L541.9,189.6 L543.3,189.0 L544.6,188.3 L545.9,187.6 L547.3,186.9 L548.6,186.2 L549.9,185.5 L551.2,184.8 L552.5,184.0 L553.7,183.3 L555.0,182.5 L556.3,181.7 L557.5,180.9 L558.8,180.1 L560.0,179.3 L561.2,178.4 L562.4,177.5 L563.6,176.7 L564.8,175.8 L566.0,174.9 L567.2,174.0 L568.3,173.0 L569.5,172.1 L570.6,171.1 L571.7,170.1 L572.8,169.2 L573.9,168.1 L575.0,167.1 L576.1,166.1 L577.1,165.0 L578.2,164.0 L579.2,162.9 L580.2,161.8 L581.3,160.7 L582.3,159.6 L583.2,158.4 L584.2,157.3 L585.2,156.1 L586.1,154.9 L587.1,153.8 L588.0,152.6 L588.9,151.3 L589.8,150.1 L590.7,148.9 L591.6,147.7 L592.4,146.4 L593.3,145.1 L594.1,143.9 L594.9,142.6 L595.7,141.3 L596.5,140.0 L597.3,138.7 L598.1,137.4 L598.9,136.1 L599.6,134.7 L600.3,133.4 L601.1,132.0 L601.8,130.7 L602.5,129.3 L603.1,127.9 L603.8,126.6 L604.5,125.2 L605.1,123.8 L605.7,122.4 L606.3,121.0 L606.9,119.6 L607.5,118.2 L608.1,116.7 L608.7,115.3 L609.2,113.9 L609.8,112.5 L610.3,111.0 L610.8,109.6 L611.3,108.1 L611.8,106.7 L612.2,105.2 L612.7,103.8 L613.1,102.3 L613.5,100.9 L614.0,99.4 L614.4,98.0 L614.7,96.5 L615.1,95.0 L615.5,93.6 L615.8,92.1 L616.1,90.6 L616.4,89.1 L616.7,87.7 L617.0,86.2 L617.3,84.7 L617.5,83.3 L617.8,81.8 L618.0,80.3 L618.2,78.8 L618.4,77.4 L618.6,75.9 L618.7,74.4 L618.9,73.0 L619.0,71.5 L619.1,70.0 L619.2,68.6 L619.3,67.1" fill="none" stroke="#88C8E6" stroke-width="4.2" stroke-linecap="round" stroke-linejoin="round"/><path d="M205.8,239.0 L207.3,239.0 L208.9,238.9 L210.4,238.9 L211.9,238.9 L213.4,238.8 L214.9,238.8 L216.5,238.8 L218.0,238.8 L219.5,238.8 L221.0,238.8 L222.5,238.8 L224.0,238.8 L225.5,238.9 L227.0,238.9 L228.5,238.9 L230.1,238.9 L231.6,239.0 L233.1,239.0 L234.6,239.0 L236.1,239.1 L237.6,239.1 L239.1,239.2 L240.6,239.2 L242.1,239.3 L243.6,239.4 L245.1,239.4 L246.6,239.5 L248.1,239.5 L249.6,239.6 L251.1,239.7 L252.6,239.8 L254.1,239.8 L255.5,239.9 L257.0,240.0 L258.5,240.0 L260.0,240.1 L261.5,240.2 L263.0,240.3 L264.5,240.4 L266.0,240.4 L267.5,240.5 L269.0,240.6 L270.5,240.7 L272.0,240.7 L273.5,240.8 L275.0,240.9 L276.5,241.0 L278.0,241.0 L279.5,241.1 L281.0,241.2 L282.5,241.2 L284.0,241.3 L285.5,241.4 L287.0,241.4 L288.6,241.5 L290.1,241.5 L291.6,241.6 L293.1,241.7 L294.6,241.7 L296.1,241.8 L297.6,241.8 L299.1,241.8 L300.7,241.9 L302.2,241.9 L303.7,241.9 L305.2,242.0 L306.7,242.0 L308.3,242.0 L309.8,242.1 L311.3,242.1 L312.8,242.1 L314.4,242.2 L315.9,242.2 L317.4,242.2 L318.9,242.3 L320.5,242.4 L322.0,242.4 L323.5,242.5 L325.0,242.6 L326.5,242.7 L328.0,242.8 L329.5,242.9 L331.0,243.0 L332.6,243.2 L334.1,243.3 L335.5,243.5 L337.0,243.7 L338.5,243.9 L340.0,244.1 L341.5,244.3 L343.0,244.6 L344.5,244.8 L345.9,245.1 L347.4,245.4 L348.8,245.8 L350.3,246.1 L351.7,246.5 L353.2,246.9 L354.6,247.3 L356.0,247.8 L357.5,248.3 L358.9,248.8 L360.3,249.3 L361.7,249.9 L363.1,250.5 L364.4,251.1 L365.8,251.8 L367.1,252.4 L368.4,253.2 L369.7,253.9 L370.9,254.7 L372.2,255.5 L373.4,256.4 L374.5,257.3 L375.7,258.2 L376.8,259.2 L377.9,260.2 L379.0,261.2 L380.0,262.3 L381.1,263.3 L382.1,264.4 L383.1,265.6 L384.0,266.7 L385.0,267.8 L385.9,269.0 L386.9,270.2 L387.8,271.4 L388.7,272.6 L389.6,273.8 L390.5,275.0 L391.3,276.3 L392.2,277.5 L393.0,278.7 L393.9,280.0 L394.7,281.2 L395.5,282.5 L396.4,283.8 L397.2,285.0 L398.0,286.3 L398.8,287.6 L399.6,288.9 L400.4,290.1 L401.2,291.4 L402.0,292.7 L402.7,294.0 L403.5,295.3 L404.3,296.6 L405.1,297.9 L405.8,299.2 L406.6,300.5 L407.4,301.8 L408.1,303.1 L408.9,304.5 L409.6,305.8 L410.4,307.1 L411.2,308.4 L411.9,309.7 L412.7,311.0 L413.4,312.3 L414.2,313.6 L415.0,314.9 L415.7,316.2 L416.5,317.5 L417.2,318.9 L418.0,320.2 L418.8,321.5 L419.5,322.8 L420.3,324.1 L421.0,325.4 L421.8,326.7 L422.6,328.0 L423.3,329.3 L424.1,330.6 L424.9,331.9 L425.6,333.2 L426.4,334.5 L427.2,335.8 L427.9,337.1 L428.7,338.4 L429.5,339.7 L430.3,341.0 L431.1,342.3 L431.8,343.6 L432.6,344.9 L433.4,346.1 L434.2,347.4 L435.0,348.7 L435.8,350.0 L436.6,351.3 L437.4,352.5 L438.2,353.8 L439.0,355.1 L439.8,356.4 L440.7,357.6 L441.5,358.9 L442.3,360.1 L443.1,361.4 L444.0,362.6 L444.8,363.9 L445.7,365.1 L446.5,366.4 L447.4,367.6 L448.2,368.9 L449.1,370.1 L449.9,371.3 L450.8,372.5 L451.7,373.8 L452.6,375.0 L453.5,376.2 L454.4,377.4 L455.3,378.6 L456.2,379.8 L457.1,381.0 L458.0,382.2 L458.9,383.4 L459.8,384.6 L460.8,385.8 L461.7,386.9 L462.7,388.1 L463.6,389.3 L464.6,390.4 L465.5,391.6 L466.5,392.8 L467.5,393.9 L468.4,395.1 L469.4,396.2 L470.4,397.4 L471.4,398.5 L472.4,399.6 L473.4,400.8 L474.3,401.9 L475.3,403.1 L476.3,404.2 L477.3,405.3 L478.3,406.5 L479.4,407.6 L480.4,408.7 L481.4,409.8 L482.4,411.0 L483.4,412.1 L484.4,413.2 L485.4,414.3 L486.4,415.4 L487.5,416.6 L488.5,417.7 L489.5,418.8 L490.5,419.9 L491.5,421.0 L492.5,422.1 L493.6,423.3 L494.6,424.4 L495.6,425.5 L496.6,426.6 L497.6,427.7 L498.6,428.9 L499.6,430.0 L500.6,431.1 L501.7,432.2 L502.7,433.4 L503.7,434.5 L504.7,435.6 L505.7,436.7 L506.7,437.9 L507.6,439.0 L508.6,440.1 L509.6,441.3 L510.6,442.4 L511.6,443.6 L512.6,444.7 L513.5,445.8 L514.5,447.0" fill="none" stroke="#88C8E6" stroke-width="4.2" stroke-linecap="round" stroke-linejoin="round"/><path d="M186.8,251.3 L188.3,251.3 L189.8,251.2 L191.3,251.2 L192.8,251.1 L194.3,251.1 L195.8,251.1 L197.3,251.1 L198.8,251.0 L200.3,251.0 L201.8,251.0 L203.3,251.0 L204.8,251.0 L206.3,250.9 L207.8,250.9 L209.3,250.9 L210.8,250.9 L212.3,250.9 L213.8,250.9 L215.3,250.9 L216.8,250.9 L218.3,250.9 L219.8,250.9 L221.4,250.9 L222.9,250.9 L224.4,250.9 L225.9,250.9 L227.4,250.9 L228.9,250.9 L230.4,250.9 L231.9,250.9 L233.4,251.0 L235.0,251.0 L236.5,251.0 L238.0,251.0 L239.5,251.0 L241.0,251.0 L242.5,251.0 L244.0,251.0 L245.5,251.0 L247.1,251.0 L248.6,251.0 L250.1,251.0 L251.6,251.0 L253.1,251.0 L254.6,251.0 L256.1,251.0 L257.7,251.0 L259.2,251.0 L260.7,251.0 L262.2,250.9 L263.7,250.9 L265.2,250.9 L266.7,250.9 L268.3,250.9 L269.8,250.8 L271.3,250.8 L272.8,250.8 L274.3,250.7 L275.8,250.7 L277.3,250.7 L278.8,250.6 L280.3,250.6 L281.9,250.5 L283.4,250.5 L284.9,250.4 L286.4,250.3 L287.9,250.3 L289.4,250.2 L290.9,250.1 L292.4,250.0 L293.9,250.0 L295.4,249.9 L296.9,249.8 L298.4,249.7 L299.9,249.6 L301.4,249.5 L302.9,249.4 L304.4,249.2 L305.9,249.1 L307.4,249.0 L308.9,248.9 L310.4,248.7 L311.9,248.6 L313.4,248.4 L314.9,248.3 L316.4,248.1 L317.9,247.9 L319.4,247.7 L320.9,247.6 L322.4,247.4 L323.9,247.2 L325.4,247.0 L326.8,246.8 L328.3,246.5 L329.8,246.3 L331.3,246.1 L332.8,245.8 L334.3,245.6 L335.7,245.3 L337.2,245.1 L338.7,244.8 L340.2,244.5 L341.7,244.2 L343.1,244.0 L344.6,243.6 L346.1,243.3 L347.5,243.0 L349.0,242.7 L350.5,242.4 L351.9,242.0 L353.4,241.7 L354.9,241.3 L356.3,240.9 L357.8,240.6 L359.2,240.2 L360.7,239.8 L362.1,239.4 L363.6,239.0 L365.0,238.6 L366.5,238.1 L367.9,237.7 L369.4,237.3 L370.8,236.8 L372.2,236.4 L373.7,235.9 L375.1,235.4 L376.5,234.9 L378.0,234.5 L379.4,234.0 L380.8,233.5 L382.2,232.9 L383.7,232.4 L385.1,231.9 L386.5,231.4 L387.9,230.8 L389.3,230.3 L390.7,229.7 L392.1,229.2 L393.6,228.6 L395.0,228.1 L396.4,227.5 L397.8,227.0 L399.2,226.4 L400.6,225.9 L402.0,225.3 L403.4,224.8 L404.8,224.2 L406.2,223.7 L407.6,223.1 L409.0,222.6 L410.4,222.0 L411.8,221.5 L413.3,221.0 L414.7,220.5 L416.1,220.0 L417.5,219.5 L418.9,219.0 L420.3,218.5 L421.7,218.0 L423.2,217.6 L424.6,217.1 L426.0,216.7 L427.5,216.3 L428.9,215.8 L430.3,215.4 L431.7,215.0 L433.2,214.6 L434.6,214.2 L436.1,213.8 L437.5,213.5 L439.0,213.1 L440.4,212.7 L441.8,212.4 L443.3,212.0 L444.7,211.7 L446.2,211.3 L447.7,211.0 L449.1,210.7 L450.6,210.4 L452.0,210.0 L453.5,209.7 L455.0,209.4 L456.4,209.1 L457.9,208.8 L459.4,208.5 L460.8,208.2 L462.3,207.9 L463.8,207.6 L465.3,207.4 L466.7,207.1 L468.2,206.8 L469.7,206.5 L471.2,206.2 L472.7,206.0 L474.1,205.7 L475.6,205.4 L477.1,205.1 L478.6,204.9 L480.1,204.6 L481.6,204.3 L483.1,204.1 L484.6,203.8 L486.1,203.5 L487.6,203.2 L489.1,203.0 L490.6,202.7 L492.1,202.4 L493.6,202.1 L495.1,201.8 L496.6,201.5 L498.1,201.2 L499.6,200.9 L501.1,200.6 L502.6,200.3 L504.1,200.0 L505.6,199.7 L507.1,199.4 L508.6,199.1 L510.1,198.7 L511.6,198.4 L513.1,198.0 L514.6,197.7 L516.0,197.3 L517.5,196.9 L519.0,196.5 L520.5,196.1 L521.9,195.7 L523.4,195.3 L524.8,194.9 L526.3,194.5 L527.7,194.0 L529.2,193.5 L530.6,193.1 L532.0,192.6 L533.4,192.1 L534.8,191.5 L536.2,191.0 L537.6,190.5 L539.0,189.9 L540.4,189.3 L541.8,188.7 L543.1,188.1 L544.5,187.5 L545.8,186.8 L547.1,186.2 L548.4,185.5 L549.7,184.8 L551.0,184.1 L552.3,183.3 L553.6,182.6 L554.9,181.8 L556.1,181.0 L557.4,180.2 L558.6,179.4 L559.8,178.5 L561.0,177.7 L562.2,176.8 L563.4,175.9 L564.6,175.0 L565.7,174.1 L566.9,173.2 L568.0,172.2 L569.2,171.2 L570.3,170.3 L571.4,169.3 L572.5,168.3 L573.6,167.3 L574.7,166.2 L575.7,165.2 L576.8,164.1 L577.8,163.0 L578.9,161.9 L579.9,160.8 L580.9,159.7 L581.9,158.6 L582.9,157.5 L583.9,156.3 L584.8,155.2 L585.8,154.0 L586.7,152.8 L587.7,151.6 L588.6,150.4 L589.5,149.2 L590.4,148.0 L591.3,146.8 L592.1,145.5 L593.0,144.3 L593.8,143.0 L594.7,141.7 L595.5,140.5 L596.3,139.2 L597.1,137.9 L597.9,136.6 L598.7,135.2 L599.4,133.9 L600.2,132.6 L600.9,131.3 L601.7,129.9 L602.4,128.6 L603.1,127.2 L603.8,125.9 L604.5,124.5 L605.1,123.1 L605.8,121.7 L606.4,120.3 L607.1,119.0 L607.7,117.6 L608.3,116.2 L608.9,114.7 L609.5,113.3 L610.0,111.9 L610.6,110.5 L611.1,109.1 L611.7,107.7 L612.2,106.2 L612.7,104.8 L613.2,103.4 L613.7,101.9 L614.1,100.5 L614.6,99.0 L615.0,97.6 L615.4,96.1 L615.9,94.7 L616.3,93.2 L616.7,91.8 L617.0,90.3 L617.4,88.9 L617.8,87.4 L618.1,86.0 L618.4,84.5 L618.7,83.1 L619.0,81.6 L619.3,80.2 L619.6,78.7" fill="none" stroke="#C9A5A5" stroke-width="4.2" stroke-linecap="round" stroke-linejoin="round"/><path d="M186.8,251.3 L188.3,251.3 L189.9,251.3 L191.4,251.3 L192.9,251.3 L194.4,251.4 L195.9,251.4 L197.4,251.4 L199.0,251.4 L200.5,251.4 L202.0,251.4 L203.5,251.4 L205.0,251.4 L206.5,251.4 L208.0,251.4 L209.5,251.4 L211.0,251.4 L212.5,251.4 L214.0,251.4 L215.5,251.4 L217.0,251.4 L218.5,251.4 L220.0,251.4 L221.5,251.4 L223.0,251.4 L224.5,251.4 L226.0,251.4 L227.5,251.4 L229.0,251.5 L230.5,251.5 L232.0,251.5 L233.5,251.5 L235.0,251.5 L236.5,251.5 L238.0,251.5 L239.5,251.5 L241.0,251.5 L242.5,251.5 L244.0,251.5 L245.5,251.5 L247.0,251.5 L248.5,251.5 L250.0,251.5 L251.5,251.5 L253.0,251.5 L254.5,251.5 L256.0,251.5 L257.5,251.5 L259.0,251.5 L260.5,251.5 L262.0,251.5 L263.5,251.6 L265.0,251.6 L266.5,251.6 L268.0,251.6 L269.5,251.6 L271.0,251.6 L272.5,251.6 L274.1,251.6 L275.6,251.7 L277.1,251.7 L278.6,251.7 L280.1,251.7 L281.7,251.7 L283.2,251.8 L284.7,251.8 L286.2,251.8 L287.8,251.8 L289.3,251.9 L290.8,251.9 L292.4,252.0 L293.9,252.0 L295.4,252.1 L296.9,252.1 L298.5,252.2 L300.0,252.2 L301.5,252.3 L303.1,252.4 L304.6,252.5 L306.1,252.6 L307.6,252.7 L309.1,252.8 L310.7,253.0 L312.2,253.1 L313.7,253.2 L315.2,253.4 L316.7,253.6 L318.2,253.8 L319.7,253.9 L321.2,254.2 L322.7,254.4 L324.2,254.6 L325.7,254.9 L327.1,255.1 L328.6,255.4 L330.1,255.7 L331.6,256.0 L333.0,256.3 L334.5,256.7 L335.9,257.0 L337.4,257.4 L338.8,257.8 L340.2,258.2 L341.7,258.6 L343.1,259.1 L344.5,259.6 L345.9,260.0 L347.3,260.6 L348.7,261.1 L350.0,261.6 L351.4,262.2 L352.8,262.8 L354.1,263.4 L355.5,264.1 L356.8,264.7 L358.1,265.4 L359.5,266.1 L360.8,266.9 L362.1,267.6 L363.4,268.4 L364.6,269.2 L365.9,270.0 L367.2,270.8 L368.4,271.7 L369.6,272.5 L370.9,273.4 L372.1,274.3 L373.3,275.2 L374.4,276.1 L375.6,277.1 L376.8,278.1 L377.9,279.0 L379.1,280.0 L380.2,281.1 L381.3,282.1 L382.4,283.1 L383.4,284.2 L384.5,285.3 L385.5,286.3 L386.6,287.4 L387.6,288.6 L388.6,289.7 L389.6,290.8 L390.6,292.0 L391.5,293.1 L392.5,294.3 L393.4,295.5 L394.3,296.6 L395.2,297.8 L396.1,299.0 L397.0,300.3 L397.9,301.5 L398.8,302.7 L399.6,303.9 L400.5,305.2 L401.3,306.4 L402.2,307.7 L403.0,308.9 L403.8,310.2 L404.6,311.5 L405.5,312.7 L406.3,314.0 L407.1,315.3 L407.9,316.6 L408.6,317.9 L409.4,319.1 L410.2,320.4 L411.0,321.7 L411.8,323.0 L412.5,324.3 L413.3,325.6 L414.1,326.9 L414.9,328.2 L415.6,329.5 L416.4,330.8 L417.1,332.1 L417.9,333.4 L418.7,334.7 L419.4,336.0 L420.2,337.3 L420.9,338.6 L421.7,339.9 L422.4,341.2 L423.2,342.5 L424.0,343.8 L424.7,345.1 L425.5,346.4 L426.3,347.7 L427.0,349.0 L427.8,350.3 L428.6,351.6 L429.3,352.9 L430.1,354.2 L430.9,355.5 L431.7,356.7 L432.5,358.0 L433.3,359.3 L434.1,360.6 L434.9,361.8 L435.7,363.1 L436.5,364.4 L437.3,365.6 L438.2,366.9 L439.0,368.1 L439.8,369.3 L440.7,370.6 L441.5,371.8 L442.4,373.0 L443.3,374.2 L444.2,375.5 L445.1,376.7 L446.0,377.9 L446.9,379.1 L447.8,380.2 L448.7,381.4 L449.7,382.6 L450.6,383.8 L451.6,384.9 L452.5,386.1 L453.5,387.2 L454.5,388.3 L455.5,389.5 L456.5,390.6 L457.5,391.7 L458.5,392.8 L459.5,393.9 L460.6,395.0 L461.6,396.1 L462.7,397.2 L463.7,398.3 L464.8,399.4 L465.8,400.5 L466.9,401.5 L468.0,402.6 L469.1,403.7 L470.1,404.7 L471.2,405.8 L472.3,406.8 L473.4,407.9 L474.5,408.9 L475.7,410.0 L476.8,411.0 L477.9,412.0 L479.0,413.1 L480.1,414.1 L481.2,415.1 L482.4,416.1 L483.5,417.2 L484.6,418.2 L485.8,419.2 L486.9,420.2 L488.0,421.2 L489.2,422.2 L490.3,423.2 L491.4,424.3 L492.6,425.3 L493.7,426.3 L494.8,427.3 L496.0,428.3 L497.1,429.3 L498.2,430.3 L499.4,431.3 L500.5,432.3 L501.6,433.3 L502.7,434.3 L503.9,435.3 L505.0,436.3 L506.1,437.3 L507.2,438.3 L508.3,439.4 L509.4,440.4 L510.5,441.4 L511.6,442.4 L512.7,443.4 L513.8,444.4 L514.9,445.5 L515.9,446.5 L517.0,447.5" fill="none" stroke="#C9A5A5" stroke-width="4.2" stroke-linecap="round" stroke-linejoin="round"/><path d="M146.5,242.8 L148.0,242.7 L149.5,242.7 L151.0,242.6 L152.5,242.6 L154.0,242.6 L155.5,242.5 L157.0,242.5 L158.5,242.5 L160.0,242.4 L161.5,242.4 L163.0,242.4 L164.5,242.3 L166.0,242.3 L167.5,242.3 L169.0,242.3 L170.5,242.3 L172.0,242.2 L173.5,242.2 L175.0,242.2 L176.5,242.2 L178.0,242.2 L179.5,242.2 L181.0,242.2 L182.5,242.2 L184.1,242.2 L185.6,242.2 L187.1,242.2 L188.6,242.2 L190.1,242.2 L191.6,242.2 L193.1,242.2 L194.6,242.2 L196.1,242.2 L197.6,242.2 L199.1,242.2 L200.6,242.2 L202.2,242.2 L203.7,242.2 L205.2,242.2 L206.7,242.2 L208.2,242.2 L209.7,242.2 L211.2,242.2 L212.7,242.2 L214.2,242.3 L215.7,242.3 L217.3,242.3 L218.8,242.3 L220.3,242.3 L221.8,242.3 L223.3,242.3 L224.8,242.3 L226.3,242.3 L227.8,242.3 L229.3,242.3 L230.9,242.3 L232.4,242.3 L233.9,242.3 L235.4,242.3 L236.9,242.3 L238.4,242.3 L239.9,242.3 L241.4,242.2 L242.9,242.2 L244.5,242.2 L246.0,242.2 L247.5,242.2 L249.0,242.2 L250.5,242.2 L252.0,242.1 L253.5,242.1 L255.0,242.1 L256.5,242.0 L258.0,242.0 L259.5,242.0 L261.1,241.9 L262.6,241.9 L264.1,241.9 L265.6,241.8 L267.1,241.8 L268.6,241.7 L270.1,241.7 L271.6,241.6 L273.1,241.6 L274.6,241.5 L276.1,241.4 L277.6,241.4 L279.1,241.3 L280.6,241.2 L282.1,241.2 L283.6,241.1 L285.2,241.0 L286.7,240.9 L288.2,240.8 L289.7,240.7 L291.2,240.6 L292.7,240.5 L294.2,240.4 L295.7,240.3 L297.2,240.2 L298.7,240.1 L300.2,239.9 L301.7,239.8 L303.2,239.7 L304.7,239.5 L306.2,239.4 L307.6,239.2 L309.1,239.1 L310.6,238.9 L312.1,238.8 L313.6,238.6 L315.1,238.4 L316.6,238.3 L318.1,238.1 L319.6,237.9 L321.1,237.7 L322.6,237.5 L324.1,237.3 L325.6,237.1 L327.0,236.9 L328.5,236.7 L330.0,236.4 L331.5,236.2 L333.0,236.0 L334.5,235.7 L335.9,235.5 L337.4,235.2 L338.9,235.0 L340.4,234.7 L341.9,234.4 L343.3,234.1 L344.8,233.9 L346.3,233.6 L347.8,233.3 L349.2,233.0 L350.7,232.7 L352.2,232.3 L353.7,232.0 L355.1,231.7 L356.6,231.4 L358.1,231.0 L359.5,230.7 L361.0,230.3 L362.4,230.0 L363.9,229.6 L365.4,229.2 L366.8,228.8 L368.3,228.5 L369.7,228.1 L371.2,227.7 L372.6,227.3 L374.1,226.9 L375.5,226.4 L377.0,226.0 L378.4,225.6 L379.8,225.2 L381.3,224.7 L382.7,224.3 L384.2,223.8 L385.6,223.4 L387.1,223.0 L388.5,222.5 L389.9,222.1 L391.4,221.6 L392.8,221.2 L394.3,220.8 L395.7,220.3 L397.1,219.9 L398.6,219.5 L400.0,219.0 L401.5,218.6 L402.9,218.2 L404.3,217.8 L405.8,217.4 L407.2,217.0 L408.7,216.6 L410.1,216.2 L411.6,215.8 L413.0,215.4 L414.5,215.0 L415.9,214.7 L417.4,214.3 L418.9,214.0 L420.3,213.6 L421.8,213.3 L423.2,213.0 L424.7,212.7 L426.2,212.3 L427.6,212.0 L429.1,211.7 L430.6,211.4 L432.0,211.1 L433.5,210.8 L435.0,210.5 L436.4,210.3 L437.9,210.0 L439.4,209.7 L440.9,209.4 L442.3,209.2 L443.8,208.9 L445.3,208.6 L446.8,208.4 L448.2,208.1 L449.7,207.9 L451.2,207.6 L452.7,207.4 L454.2,207.1 L455.7,206.9 L457.1,206.6 L458.6,206.4 L460.1,206.1 L461.6,205.9 L463.1,205.7 L464.6,205.4 L466.1,205.2 L467.6,204.9 L469.1,204.7 L470.5,204.4 L472.0,204.2 L473.5,204.0 L475.0,203.7 L476.5,203.5 L478.0,203.2 L479.5,203.0 L481.0,202.7 L482.5,202.5 L484.0,202.2 L485.5,201.9 L487.0,201.7 L488.5,201.4 L490.0,201.1 L491.5,200.9 L493.0,200.6 L494.5,200.3 L496.0,200.0 L497.5,199.8 L499.0,199.5 L500.5,199.2 L501.9,198.9 L503.4,198.5 L504.9,198.2 L506.4,197.9 L507.9,197.6 L509.4,197.2 L510.8,196.9 L512.3,196.5 L513.8,196.1 L515.3,195.7 L516.7,195.4 L518.2,195.0 L519.6,194.5 L521.1,194.1 L522.5,193.7 L523.9,193.2 L525.4,192.8 L526.8,192.3 L528.2,191.8 L529.6,191.3 L531.0,190.8 L532.4,190.2 L533.8,189.7 L535.1,189.1 L536.5,188.5 L537.9,187.9 L539.2,187.3 L540.5,186.7 L541.9,186.1 L543.2,185.4 L544.5,184.7 L545.8,184.0 L547.1,183.3 L548.4,182.5 L549.6,181.8 L550.9,181.0 L552.1,180.2 L553.4,179.4 L554.6,178.6 L555.8,177.7 L557.0,176.8 L558.2,176.0 L559.4,175.1 L560.5,174.2 L561.7,173.2 L562.9,172.3 L564.0,171.3 L565.1,170.4 L566.2,169.4 L567.3,168.4 L568.4,167.4 L569.5,166.3 L570.6,165.3 L571.7,164.2 L572.7,163.2 L573.8,162.1 L574.8,161.0 L575.8,159.9 L576.8,158.8 L577.8,157.6 L578.8,156.5 L579.8,155.3 L580.7,154.2 L581.7,153.0 L582.6,151.8 L583.5,150.6 L584.4,149.4 L585.3,148.2 L586.2,147.0 L587.1,145.7 L588.0,144.5 L588.8,143.2 L589.7,141.9 L590.5,140.7 L591.3,139.4 L592.2,138.1 L593.0,136.8 L593.7,135.5 L594.5,134.1 L595.3,132.8 L596.0,131.5 L596.8,130.1 L597.5,128.8 L598.2,127.4 L598.9,126.1 L599.6,124.7 L600.3,123.3 L600.9,121.9 L601.6,120.6 L602.2,119.2 L602.9,117.8 L603.5,116.4 L604.1,115.0 L604.7,113.5 L605.3,112.1 L605.8,110.7 L606.4,109.3 L606.9,107.9 L607.5,106.4 L608.0,105.0 L608.5,103.6 L609.0,102.1 L609.5,100.7 L609.9,99.2 L610.4,97.8 L610.8,96.3 L611.2,94.9 L611.7,93.4 L612.1,92.0 L612.4,90.5 L612.8,89.1 L613.2,87.6 L613.5,86.2 L613.9,84.7 L614.2,83.3 L614.5,81.8 L614.8,80.4 L615.1,78.9 L615.4,77.4 L615.6,76.0 L615.9,74.5 L616.1,73.1" fill="none" stroke="#6670A6" stroke-width="4.2" stroke-linecap="round" stroke-linejoin="round"/><path d="M146.5,242.8 L148.0,242.8 L149.6,242.8 L151.1,242.7 L152.6,242.7 L154.1,242.7 L155.7,242.7 L157.2,242.7 L158.7,242.7 L160.2,242.7 L161.7,242.7 L163.2,242.7 L164.8,242.7 L166.3,242.7 L167.8,242.7 L169.3,242.7 L170.8,242.7 L172.3,242.7 L173.8,242.7 L175.3,242.7 L176.8,242.7 L178.3,242.8 L179.8,242.8 L181.3,242.8 L182.8,242.8 L184.3,242.8 L185.8,242.9 L187.3,242.9 L188.8,242.9 L190.3,242.9 L191.8,243.0 L193.3,243.0 L194.8,243.0 L196.3,243.0 L197.7,243.1 L199.2,243.1 L200.7,243.1 L202.2,243.2 L203.7,243.2 L205.2,243.2 L206.7,243.2 L208.2,243.3 L209.7,243.3 L211.2,243.3 L212.7,243.4 L214.2,243.4 L215.6,243.4 L217.1,243.4 L218.6,243.5 L220.1,243.5 L221.6,243.5 L223.1,243.5 L224.6,243.6 L226.1,243.6 L227.6,243.6 L229.1,243.6 L230.6,243.6 L232.1,243.7 L233.6,243.7 L235.1,243.7 L236.6,243.7 L238.1,243.7 L239.6,243.7 L241.1,243.7 L242.6,243.7 L244.1,243.7 L245.6,243.7 L247.1,243.7 L248.6,243.7 L250.1,243.7 L251.6,243.7 L253.1,243.7 L254.7,243.7 L256.2,243.7 L257.7,243.7 L259.2,243.6 L260.7,243.6 L262.2,243.6 L263.8,243.6 L265.3,243.6 L266.8,243.6 L268.3,243.6 L269.9,243.6 L271.4,243.5 L272.9,243.5 L274.4,243.5 L276.0,243.5 L277.5,243.5 L279.0,243.5 L280.6,243.5 L282.1,243.6 L283.6,243.6 L285.2,243.6 L286.7,243.6 L288.2,243.7 L289.8,243.7 L291.3,243.7 L292.8,243.8 L294.4,243.8 L295.9,243.9 L297.4,244.0 L299.0,244.1 L300.5,244.1 L302.0,244.2 L303.6,244.3 L305.1,244.4 L306.6,244.6 L308.2,244.7 L309.7,244.8 L311.2,245.0 L312.7,245.2 L314.3,245.3 L315.8,245.5 L317.3,245.7 L318.8,246.0 L320.3,246.2 L321.8,246.4 L323.3,246.7 L324.8,247.0 L326.2,247.3 L327.7,247.6 L329.2,247.9 L330.6,248.3 L332.1,248.7 L333.5,249.1 L335.0,249.5 L336.4,249.9 L337.8,250.4 L339.2,250.9 L340.6,251.4 L342.0,251.9 L343.3,252.4 L344.7,253.0 L346.1,253.6 L347.4,254.2 L348.7,254.8 L350.0,255.5 L351.3,256.2 L352.6,256.9 L353.9,257.6 L355.2,258.3 L356.4,259.1 L357.7,259.9 L358.9,260.7 L360.1,261.5 L361.3,262.4 L362.5,263.2 L363.7,264.1 L364.9,265.0 L366.0,265.9 L367.2,266.8 L368.3,267.8 L369.4,268.7 L370.5,269.7 L371.6,270.7 L372.7,271.8 L373.8,272.8 L374.8,273.8 L375.8,274.9 L376.9,276.0 L377.9,277.1 L378.9,278.2 L379.8,279.3 L380.8,280.5 L381.8,281.6 L382.7,282.8 L383.6,284.0 L384.5,285.1 L385.4,286.4 L386.3,287.6 L387.2,288.8 L388.0,290.1 L388.9,291.3 L389.7,292.6 L390.5,293.8 L391.3,295.1 L392.1,296.4 L392.9,297.7 L393.7,299.0 L394.5,300.3 L395.2,301.6 L396.0,303.0 L396.7,304.3 L397.5,305.6 L398.2,306.9 L399.0,308.3 L399.7,309.6 L400.4,311.0 L401.2,312.3 L401.9,313.6 L402.6,315.0 L403.3,316.3 L404.0,317.7 L404.8,319.0 L405.5,320.3 L406.2,321.7 L406.9,323.0 L407.6,324.4 L408.3,325.7 L409.0,327.0 L409.7,328.4 L410.5,329.7 L411.2,331.1 L411.9,332.4 L412.6,333.7 L413.3,335.1 L414.0,336.4 L414.7,337.7 L415.4,339.1 L416.2,340.4 L416.9,341.7 L417.6,343.0 L418.3,344.4 L419.1,345.7 L419.8,347.0 L420.5,348.3 L421.3,349.6 L422.0,350.9 L422.8,352.2 L423.5,353.5 L424.3,354.8 L425.1,356.1 L425.8,357.4 L426.6,358.7 L427.4,359.9 L428.2,361.2 L429.0,362.5 L429.8,363.7 L430.6,365.0 L431.4,366.3 L432.2,367.5 L433.0,368.8 L433.9,370.0 L434.7,371.2 L435.6,372.5 L436.4,373.7 L437.3,374.9 L438.2,376.1 L439.1,377.3 L440.0,378.5 L440.9,379.7 L441.8,380.9 L442.7,382.0 L443.7,383.2 L444.6,384.4 L445.6,385.5 L446.5,386.7 L447.5,387.8 L448.5,389.0 L449.5,390.1 L450.5,391.2 L451.5,392.3 L452.5,393.4 L453.5,394.5 L454.6,395.7 L455.6,396.7 L456.6,397.8 L457.7,398.9 L458.7,400.0 L459.8,401.1 L460.9,402.1 L462.0,403.2 L463.0,404.3 L464.1,405.3 L465.2,406.4 L466.3,407.4 L467.4,408.5 L468.5,409.5 L469.7,410.6 L470.8,411.6 L471.9,412.6 L473.0,413.6 L474.1,414.7 L475.3,415.7 L476.4,416.7 L477.5,417.7 L478.7,418.7 L479.8,419.7 L480.9,420.7 L482.1,421.8 L483.2,422.8 L484.4,423.8 L485.5,424.8 L486.7,425.7 L487.8,426.7 L489.0,427.7 L490.1,428.7 L491.2,429.7 L492.4,430.7 L493.5,431.7 L494.7,432.7 L495.8,433.7 L497.0,434.7 L498.1,435.6 L499.2,436.6 L500.4,437.6 L501.5,438.6 L502.6,439.6 L503.7,440.6 L504.9,441.6 L506.0,442.6 L507.1,443.5 L508.2,444.5 L509.3,445.5 L510.4,446.5 L511.5,447.5" fill="none" stroke="#6670A6" stroke-width="4.2" stroke-linecap="round" stroke-linejoin="round"/><line x1="185.5" y1="313.5" x2="230.5" y2="313.5" stroke="#000000" stroke-width="4.5" stroke-linecap="round"/><text x="236.5" y="319.5" class="l">0ppm</text><line x1="185.5" y1="338.5" x2="230.5" y2="338.5" stroke="#854129" stroke-width="4.5" stroke-linecap="round"/><text x="236.5" y="344.5" class="l">100ppm</text><line x1="185.5" y1="363.4" x2="230.5" y2="363.4" stroke="#2C463D" stroke-width="4.5" stroke-linecap="round"/><text x="236.5" y="369.4" class="l">200ppm</text><line x1="185.5" y1="388.3" x2="230.5" y2="388.3" stroke="#88C8E6" stroke-width="4.5" stroke-linecap="round"/><text x="236.5" y="394.3" class="l">300ppm</text><line x1="185.5" y1="413.2" x2="230.5" y2="413.2" stroke="#C9A5A5" stroke-width="4.5" stroke-linecap="round"/><text x="236.5" y="419.2" class="l">400ppm</text><line x1="185.5" y1="438.7" x2="230.5" y2="438.7" stroke="#6670A6" stroke-width="4.5" stroke-linecap="round"/><text x="236.5" y="444.7" class="l">500ppm</text></svg></body></html>
